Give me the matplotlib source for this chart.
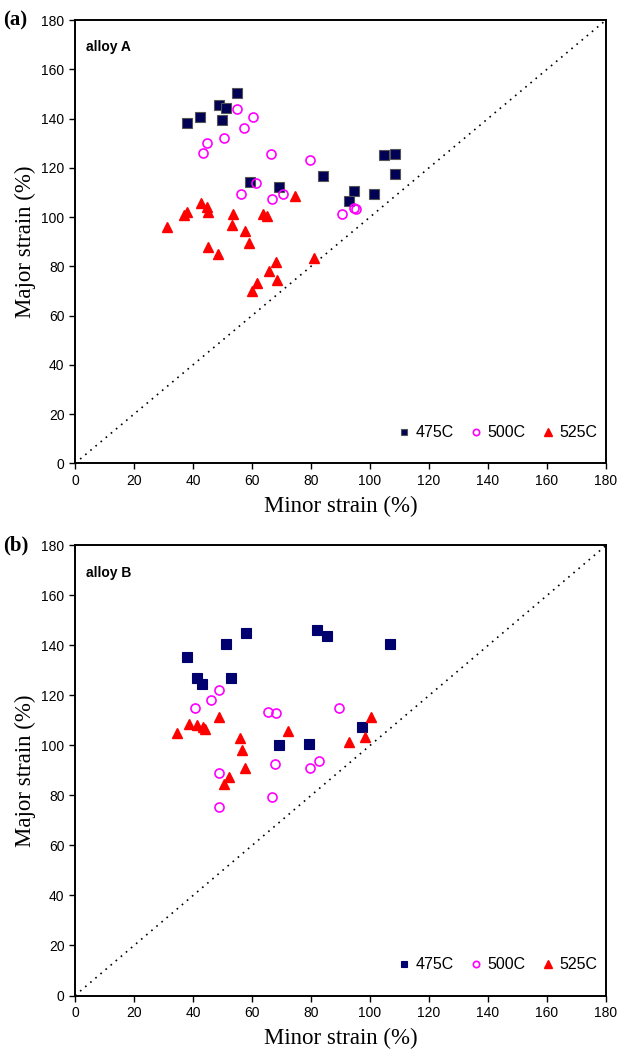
import matplotlib.pyplot as plt

# panel (a) - alloy A
a_475_x = [38.1, 42.5, 48.7, 51.3, 49.9, 54.8, 59.2, 69.3, 84.2, 94.7, 93.0, 101.3, 104.7, 108.4, 108.4]
a_475_y = [138.0, 140.6, 145.3, 144.4, 139.6, 150.4, 114.2, 112.1, 116.8, 110.5, 106.5, 109.5, 125.0, 125.5, 117.3]
a_500_x = [54.8, 60.4, 57.4, 50.4, 44.7, 43.4, 66.6, 79.8, 61.5, 56.2, 66.7, 70.6, 90.4, 94.7, 95.3]
a_500_y = [143.8, 140.6, 136.0, 132.3, 130.2, 126.0, 125.5, 123.0, 113.7, 109.5, 107.4, 109.5, 101.2, 103.8, 103.2]
a_525_x = [31.3, 37.1, 38.0, 42.7, 44.8, 45.0, 53.7, 53.3, 57.6, 59.0, 45.0, 48.5, 63.7, 65.1, 74.7,
           68.1, 65.9, 68.6, 61.6, 59.9, 80.9]
a_525_y = [96.1, 101.0, 102.1, 105.9, 103.9, 102.1, 101.2, 96.6, 94.5, 89.4, 87.9, 85.1, 101.2, 100.6, 108.6,
           81.6, 78.3, 74.3, 73.2, 70.0, 83.5]

# panel (b) - alloy B
b_475_x = [38.1, 41.2, 43.2, 51.1, 53.0, 57.9, 69.0, 79.2, 81.9, 85.4, 97.2, 106.9]
b_475_y = [135.3, 126.9, 124.6, 140.7, 126.9, 144.9, 100.1, 100.7, 146.1, 143.9, 107.5, 140.7]
b_500_x = [48.9, 46.2, 40.8, 65.4, 68.1, 89.5, 67.7, 79.7, 82.8, 48.9, 66.7, 48.9]
b_500_y = [122.1, 118.2, 115.0, 113.4, 112.9, 115.0, 92.7, 91.0, 93.8, 88.9, 79.3, 75.5]
b_525_x = [34.7, 38.8, 41.4, 43.3, 44.0, 48.7, 55.8, 56.7, 57.7, 52.3, 50.4, 72.3, 92.9, 98.2, 100.4]
b_525_y = [105.0, 108.7, 108.2, 107.4, 106.6, 111.5, 102.9, 98.1, 91.1, 87.5, 84.7, 105.7, 101.3, 103.5, 111.5]

ticks = [0, 20, 40, 60, 80, 100, 120, 140, 160, 180]

plt.rcParams['font.family'] = ['Liberation Sans', 'DejaVu Sans']

fig = plt.figure(figsize=(6.21, 10.49), dpi=100)
ax_a = fig.add_axes([0.1208, 0.5583, 0.855, 0.4226])
ax_b = fig.add_axes([0.1208, 0.0510, 0.855, 0.4290])

panels = [
    (ax_a, '(a)', 'alloy A', a_475_x, a_475_y, a_500_x, a_500_y, a_525_x, a_525_y, '#000055'),
    (ax_b, '(b)', 'alloy B', b_475_x, b_475_y, b_500_x, b_500_y, b_525_x, b_525_y, '#00006e'),
]

for ax, tag, name, x1, y1, x2, y2, x3, y3, navy in panels:
    ax.plot([0, 180], [0, 180], linestyle=(0, (1, 3)), color='black', linewidth=1.2)
    ax.plot(x1, y1, 's', color=navy, markersize=6.5, markeredgecolor='#555555' if tag == '(a)' else navy,
            markeredgewidth=0.8, linestyle='none', label='475C')
    ax.plot(x2, y2, 'o', markerfacecolor='none', markeredgecolor='#ff00ff', markersize=6.5,
            markeredgewidth=1.2, linestyle='none', label='500C')
    ax.plot(x3, y3, '^', color='#ff0000', markersize=7.5, linestyle='none', label='525C')

    ax.set_xlim(0, 180)
    ax.set_ylim(0, 180)
    ax.set_xticks(ticks)
    ax.set_yticks(ticks)
    ax.tick_params(direction='out', length=4, width=1, labelsize=10, top=False, right=False)
    for s in ax.spines.values():
        s.set_linewidth(1.4)

    ax.set_xlabel('Minor strain (%)', family='Liberation Serif', fontsize=16.5, labelpad=6)
    ax.set_ylabel('Major strain (%)', family='Liberation Serif', fontsize=16.5, labelpad=4)
    ax.text(0.02, 0.955, name, transform=ax.transAxes, fontsize=10, fontweight='bold', va='top')
    ax.text(-0.135, 1.0, tag, transform=ax.transAxes, family='Liberation Serif', fontsize=15,
            fontweight='bold', va='center', ha='left')

    ax.legend(loc='lower right', ncol=3, frameon=False, fontsize=11.5, markerscale=0.7,
              handlelength=0.8, handletextpad=0.3, columnspacing=1.0, bbox_to_anchor=(1.01, 0.02))

fig.savefig('out.png', dpi=100)
